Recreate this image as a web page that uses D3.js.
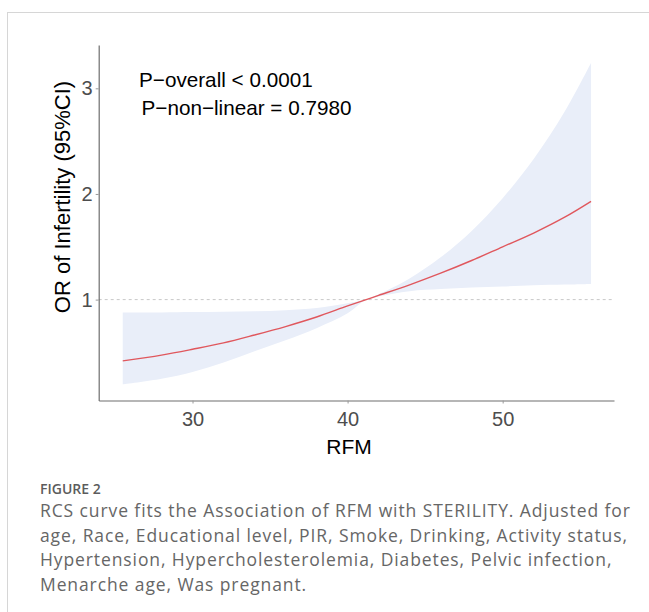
<!DOCTYPE html>
<html lang="en">
<head>
<meta charset="utf-8">
<script src="https://d3js.org/d3.v7.min.js"></script>
<style>
  body { margin: 0; background: #fff; }
  svg text { font-family: "Liberation Sans", Arial, sans-serif; }
  .caption { font-family: "Open Sans", "Noto Sans", sans-serif !important; }
</style>
</head>
<body>
<svg width="649" height="612"></svg>
<script>
var rfm   = [25.5, 28, 30, 32, 34, 36, 38, 40, 41.2, 42, 44, 46, 48, 50, 52, 54, 55.7];
var orEst = [0.42, 0.475, 0.53, 0.59, 0.665, 0.745, 0.835, 0.94, 1.0, 1.04, 1.14, 1.25, 1.37, 1.50, 1.63, 1.78, 1.93];
var ciLow = [0.197, 0.25, 0.315, 0.405, 0.51, 0.615, 0.73, 0.87, 1.0, 1.03, 1.08, 1.10, 1.115, 1.125, 1.135, 1.142, 1.148];
var ciHigh = [0.877, 0.879, 0.882, 0.886, 0.89, 0.90, 0.92, 0.965, 1.0, 1.05, 1.20, 1.40, 1.65, 1.96, 2.33, 2.78, 3.24];

var xTicks = [30, 40, 50];
var yTicks = [1, 2, 3];
var pText = ["P\u2212overall < 0.0001", "P\u2212non\u2212linear = 0.7980"];
var captionLines = [
  "RCS curve fits the Association of RFM with STERILITY. Adjusted for",
  "age, Race, Educational level, PIR, Smoke, Drinking, Activity status,",
  "Hypertension, Hypercholesterolemia, Diabetes, Pelvic infection,",
  "Menarche age, Was pregnant."
];

var data = rfm.map(function(d, i) {
  return { x: d, y: orEst[i], lo: ciLow[i], hi: ciHigh[i] };
});

var svg = d3.select("svg");

// panel frame (top + left border)
svg.append("rect")
  .attr("x", 7.5).attr("y", 12.5)
  .attr("width", 800).attr("height", 800)
  .attr("fill", "none").attr("stroke", "#d6d6d6");

var plotLeft = 98.7, plotRight = 614, plotTop = 45, plotBottom = 400.5;

var x = d3.scaleLinear().domain([23.95, 57.18]).range([plotLeft, plotRight]);
var y = d3.scaleLinear().domain([0.045, 3.41]).range([plotBottom, plotTop]);

// reference line at OR = 1
svg.append("line")
  .attr("x1", plotLeft).attr("x2", 612)
  .attr("y1", y(1)).attr("y2", y(1))
  .attr("stroke", "#c8c8c8").attr("stroke-dasharray", "3,3");

// confidence band
svg.append("path")
  .datum(data)
  .attr("fill", "#e9eef9")
  .attr("d", d3.area()
    .x(function(d) { return x(d.x); })
    .y0(function(d) { return y(d.lo); })
    .y1(function(d) { return y(d.hi); })
    .curve(d3.curveCatmullRom.alpha(0.5)));

// OR curve
svg.append("path")
  .datum(data)
  .attr("fill", "none")
  .attr("stroke", "#e0575d")
  .attr("stroke-width", 1.4)
  .attr("d", d3.line()
    .x(function(d) { return x(d.x); })
    .y(function(d) { return y(d.y); })
    .curve(d3.curveCatmullRom.alpha(0.5)));

// axes
var xAxis = svg.append("g")
  .attr("transform", "translate(0," + plotBottom + ")")
  .call(d3.axisBottom(x).tickValues(xTicks).tickFormat(d3.format("d"))
    .tickSize(3).tickPadding(8).tickSizeOuter(0));
var yAxis = svg.append("g")
  .attr("transform", "translate(" + plotLeft + ",0)")
  .call(d3.axisLeft(y).tickValues(yTicks).tickFormat(d3.format("d"))
    .tickSize(3).tickPadding(3).tickSizeOuter(0));

[xAxis, yAxis].forEach(function(g) {
  g.select(".domain").attr("stroke", "#6e6e6e").attr("stroke-width", 1.2);
  g.selectAll(".tick line").attr("stroke", "#9a9a9a");
  g.selectAll(".tick text")
    .attr("fill", "#4d4d4d")
    .style("font-size", "20px")
    .style("font-family", "'Liberation Sans', Arial, sans-serif");
});

// axis titles
svg.append("text")
  .attr("x", 349).attr("y", 454)
  .attr("text-anchor", "middle")
  .attr("fill", "#000")
  .style("font-size", "21px")
  .text("RFM");

svg.append("text")
  .attr("transform", "translate(70,197) rotate(-90)")
  .attr("text-anchor", "middle")
  .attr("fill", "#000")
  .style("font-size", "22px")
  .text("OR of Infertility (95%CI)");

// p-values
svg.selectAll(".ptext")
  .data(pText)
  .enter().append("text")
  .attr("class", "ptext")
  .attr("x", function(d, i) { return i === 0 ? 139 : 141.5; })
  .attr("y", function(d, i) { return 87 + i * 28; })
  .attr("fill", "#000")
  .style("font-size", "20.7px")
  .text(function(d) { return d; });

// caption
svg.append("text")
  .attr("class", "caption")
  .attr("x", 40).attr("y", 494)
  .attr("fill", "#5c5c5c")
  .style("font-size", "14px")
  .style("font-weight", "600")
  .text("FIGURE 2");

svg.selectAll(".capline")
  .data(captionLines)
  .enter().append("text")
  .attr("class", "caption capline")
  .attr("x", 40)
  .attr("y", function(d, i) { return 517 + i * 24.5; })
  .attr("fill", "#666")
  .style("font-size", "17.5px")
  .style("letter-spacing", "0.9px")
  .text(function(d) { return d; });
</script>
</body>
</html>
